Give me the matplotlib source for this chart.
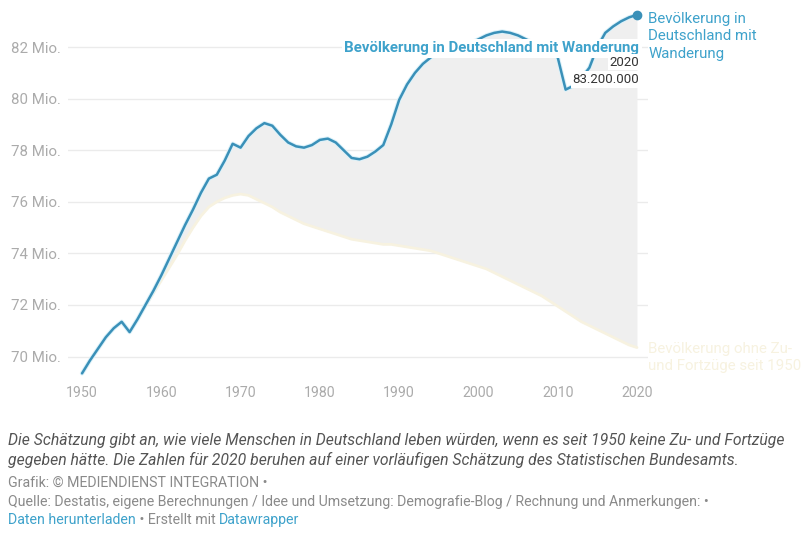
import matplotlib
matplotlib.use("Agg")
import matplotlib.pyplot as plt
import matplotlib.patheffects as pe
import numpy as np

plt.rcParams["font.family"] = ["Roboto", "DejaVu Sans"]

# Population in Germany (millions), 1950-2020
years = list(range(1950, 2021))
mit_wanderung = [
    69.35, 69.85, 70.30, 70.75, 71.10, 71.35, 70.95, 71.45, 72.00, 72.55,
    73.15, 73.80, 74.45, 75.10, 75.70, 76.35, 76.90, 77.05, 77.60, 78.25,
    78.10, 78.55, 78.85, 79.05, 78.95, 78.60, 78.30, 78.15, 78.10, 78.20,
    78.40, 78.45, 78.30, 78.00, 77.70, 77.65, 77.75, 77.95, 78.20, 79.00,
    79.95, 80.55, 81.00, 81.35, 81.60, 81.80, 81.95, 82.05, 82.10, 82.15,
    82.30, 82.45, 82.55, 82.60, 82.55, 82.45, 82.30, 82.15, 81.95, 81.75,
    81.60, 80.35, 80.50, 80.80, 81.20, 82.00, 82.55, 82.80, 83.00, 83.15,
    83.25,
]
ohne_wanderung = [
    69.35, 69.85, 70.30, 70.75, 71.10, 71.35, 70.95, 71.45, 71.95, 72.45,
    72.95, 73.45, 73.95, 74.50, 75.00, 75.45, 75.80, 76.00, 76.15, 76.25,
    76.30, 76.25, 76.10, 75.95, 75.80, 75.60, 75.45, 75.30, 75.15, 75.05,
    74.95, 74.85, 74.75, 74.65, 74.55, 74.50, 74.45, 74.40, 74.35, 74.35,
    74.30, 74.25, 74.20, 74.15, 74.10, 74.00, 73.90, 73.80, 73.70, 73.60,
    73.50, 73.40, 73.25, 73.10, 72.95, 72.80, 72.65, 72.50, 72.35, 72.15,
    71.95, 71.75, 71.55, 71.35, 71.20, 71.05, 70.90, 70.75, 70.60, 70.45,
    70.35,
]
y_ticks = [70, 72, 74, 76, 78, 80, 82]
y_tick_labels = [f"{v} Mio." for v in y_ticks]
x_ticks = [1950, 1960, 1970, 1980, 1990, 2000, 2010, 2020]

BLUE = "#3a90b8"
BLUE_TEXT = "#3ea2cb"
PALE = "#f7f2e0"
GREY_TXT = "#ababab"

W, H = 811, 539
fig = plt.figure(figsize=(W / 100, H / 100), dpi=100)
ax = fig.add_axes([68 / W, 1 - 378 / H, (648 - 68) / W, (378 - 5) / H])

x = np.array(years)
mit = np.array(mit_wanderung)
ohne = np.array(ohne_wanderung)

ax.set_xlim(1948.23, 2021.39)
ax.set_ylim(69.17, 83.63)

for v in y_ticks:
    ax.axhline(v, color="#ebebeb", lw=1, zorder=0)

ax.fill_between(x, ohne, mit, where=mit >= ohne, color="#efefef", lw=0, zorder=1)
ax.plot(x, ohne, color=PALE, lw=2, zorder=2, solid_capstyle="round")
ax.plot(x, mit, color=BLUE, lw=1.8, zorder=3, solid_capstyle="round",
        path_effects=[pe.Stroke(linewidth=3.2, foreground="#dcf2fa"), pe.Normal()])
ax.plot([years[-1]], [mit_wanderung[-1]], "o", color=BLUE, ms=6, zorder=4)

for s in ax.spines.values():
    s.set_visible(False)
ax.set_yticks(y_ticks)
ax.set_yticklabels(y_tick_labels)
ax.set_xticks(x_ticks)
ax.tick_params(length=0, labelcolor=GREY_TXT)
ax.tick_params(axis="y", pad=5, labelsize=10.8)
ax.tick_params(axis="x", pad=6, labelsize=10.2)

box = dict(boxstyle="square,pad=0.15", fc="white", ec="none")
ax.annotate("Bevölkerung in Deutschland mit Wanderung", xy=(2020.3, 81.95),
            ha="right", va="center", fontsize=10.8, fontweight="bold",
            color=BLUE_TEXT, bbox=box, zorder=6)
ax.annotate("2020", xy=(2020.3, 81.42), ha="right", va="center",
            fontsize=9.5, color="#333333", bbox=box, zorder=6)
ax.annotate("83.200.000", xy=(2020.3, 80.74), ha="right", va="center",
            fontsize=9.5, color="#333333", bbox=box, zorder=6)

ax.annotate("Bevölkerung in\nDeutschland mit\nWanderung",
            xy=(years[-1], mit_wanderung[-1]), xytext=(8, 2),
            textcoords="offset points", ha="left", va="top",
            fontsize=10.8, color=BLUE_TEXT, linespacing=1.3,
            annotation_clip=False)
ax.annotate("Bevölkerung ohne Zu-\nund Fortzüge seit 1950",
            xy=(years[-1], ohne_wanderung[-1]), xytext=(8, 4),
            textcoords="offset points", ha="left", va="top",
            fontsize=10.8, color=PALE, linespacing=1.3,
            annotation_clip=False)

# Notes and footer
fig.text(8 / W, 1 - 440 / H,
         "Die Schätzung gibt an, wie viele Menschen in Deutschland leben würden, "
         "wenn es seit 1950 keine Zu- und Fortzüge",
         fontsize=11.3, style="italic", color="#555555", va="center")
fig.text(8 / W, 1 - 460 / H,
         "gegeben hätte. Die Zahlen für 2020 beruhen auf einer vorläufigen "
         "Schätzung des Statistischen Bundesamts.",
         fontsize=11.3, style="italic", color="#555555", va="center")
fig.text(8 / W, 1 - 483 / H, "Grafik: © MEDIENDIENST INTEGRATION •",
         fontsize=10.2, color="#8a8a8a", va="center")
fig.text(8 / W, 1 - 502 / H,
         "Quelle: Destatis, eigene Berechnungen / Idee und Umsetzung: "
         "Demografie-Blog / Rechnung und Anmerkungen: •",
         fontsize=10.2, color="#8a8a8a", va="center")

renderer = fig.canvas.get_renderer()
xpos = 8 / W
for part, col in [("Daten herunterladen", BLUE_TEXT),
                  (" • Erstellt mit ", "#8a8a8a"),
                  ("Datawrapper", BLUE_TEXT)]:
    t = fig.text(xpos, 1 - 520 / H, part, fontsize=10.2, color=col, va="center")
    bb = t.get_window_extent(renderer=renderer)
    xpos += bb.width / W

fig.savefig("out.png", dpi=100)
